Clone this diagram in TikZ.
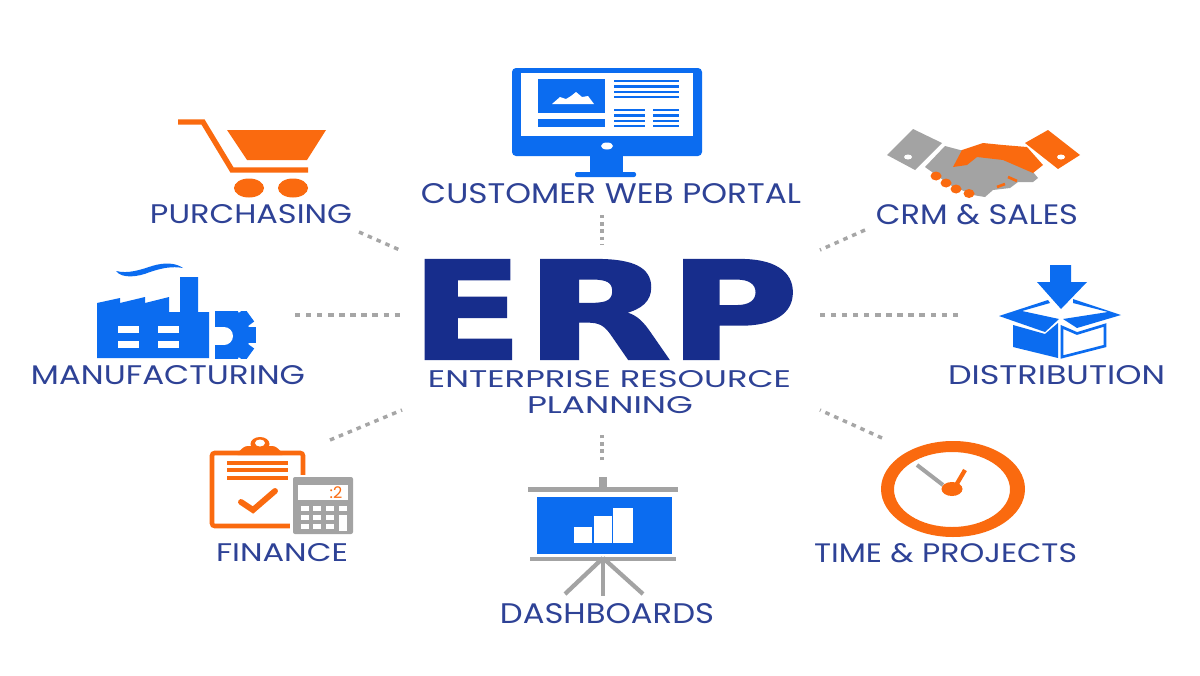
\documentclass[tikz,border=0pt]{standalone}
\usepackage{graphicx}
\usepackage{fontspec}
\setmainfont{Poppins}
\newfontfamily\erpfont{DejaVu Sans}[FakeBold=1.6]
\definecolor{iconblue}{HTML}{0B6CF0}
\definecolor{iconorange}{HTML}{FA6A0F}
\definecolor{icongray}{HTML}{A3A3A3}
\definecolor{labelblue}{HTML}{2E4296}
\definecolor{erpblue}{HTML}{172D8C}
\definecolor{dotgray}{HTML}{A6A6A6}
\tikzset{
  txt/.style={inner sep=0pt,outer sep=0pt,text=labelblue},
  bigtxt/.style={inner sep=0pt,outer sep=0pt,text=erpblue},
  linkh/.style={draw=dotgray,line width=2.6pt,dash pattern=on 4pt off 4.3pt},
  linkv/.style={draw=dotgray,line width=2.6pt,dash pattern=on 2.6pt off 2.8pt},
  linkd/.style={draw=dotgray,line width=2.6pt,dash pattern=on 3.4pt off 3.8pt},
  blue/.style={fill=iconblue},
  orange/.style={fill=iconorange},
  gray/.style={fill=icongray},
  white/.style={fill=white},
  bline/.style={draw=iconblue,line width=1.6pt},
  oline/.style={draw=iconorange},
  gline/.style={draw=icongray},
}
% name, x0, y0, x1, y1, text  (pixel box)
\newcommand{\lab}[6]{\node[txt] (#1) at ({(#2+#4)/2},{(#3+#5)/2})
  {\resizebox{\dimexpr 0.75pt*\numexpr#4-#2\relax\relax}{\dimexpr 0.75pt*\numexpr#5-#3\relax\relax}{#6}};}
\newcommand{\bigletter}[2]{\resizebox{\dimexpr 0.75pt*#1\relax}{\dimexpr 0.75pt*99\relax}{#2}}
\begin{document}
\begin{tikzpicture}[x=0.75pt,y=-0.75pt]
\useasboundingbox (0,0) rectangle (1200,675);
\fill[white] (0,0) rectangle (1200,675);

% ---------- centre text
\node[bigtxt] (erp) at (609.5,309.5)
  {\erpfont\bfseries\bigletter{89}{\kern-0.09em E\kern-0.05em}\kern20pt\bigletter{128}{\kern-0.09em R\kern-0.01em}\kern11.25pt\bigletter{109}{\kern-0.09em P\kern-0.03em}};
\lab{ent}{428}{371}{791}{388}{ENTERPRISE RESOURCE}
\lab{pln}{527}{397}{693}{414}{PLANNING}

% ---------- labels
\lab{purch}{150}{205}{352}{224}{PURCHASING}
\lab{portal}{421}{184}{801}{204}{CUSTOMER WEB PORTAL}
\lab{crm}{876}{205}{1078}{225}{CRM \& SALES}
\lab{manu}{31}{366}{305}{385}{MANUFACTURING}
\lab{dist}{948}{366}{1165}{385}{DISTRIBUTION}
\lab{fin}{216}{544}{348}{562}{FINANCE}
\lab{dash}{500}{604}{714}{624}{DASHBOARDS}
\lab{time}{814}{544}{1077}{563}{TIME \& PROJECTS}

% ---------- dotted connectors
\coordinate (t0) at (602,215); \coordinate (t1) at (602,244);
\coordinate (tl0) at (359,232); \coordinate (tl1) at (402,251);
\coordinate (tr0) at (865,230); \coordinate (tr1) at (820,250);
\coordinate (l0) at (295,315); \coordinate (l1) at (402,315);
\coordinate (r0) at (958,315); \coordinate (r1) at (818,315);
\coordinate (bl0) at (330,440); \coordinate (bl1) at (402,410);
\coordinate (b0) at (602,460); \coordinate (b1) at (602,432);
\coordinate (br0) at (882,438); \coordinate (br1) at (820,410);
\draw[linkv] (t0) -- (t1);
\draw[linkv] (b0) -- (b1);
\draw[linkh] (l0) -- (l1);
\draw[linkh] (r0) -- (r1);
\foreach \a/\b in {tl0/tl1,tr0/tr1,bl0/bl1,br0/br1}
  \draw[linkd] (\a) -- (\b);

% ---------- monitor
\fill[blue,rounded corners=3pt] (512,68) rectangle (702,156);
\fill[white] (521,73) rectangle (693,136);
\fill[blue] (538,79) rectangle (605,113);
\fill[blue] (538,119) rectangle (605,127);
\fill[white] (552,104) -- (560,97) -- (566,99) -- (571,96) -- (576,92) -- (582,97) -- (588,96) -- (594,104) -- cycle;
\foreach \y in {81,86.5,92,97} \draw[bline] (614,\y) -- (679,\y);
\foreach \y in {110,115.5,121,126} {\draw[bline] (614,\y) -- (645,\y); \draw[bline] (653,\y) -- (679,\y);}
\fill[white] (607,146) ellipse (6 and 3.5);
\fill[blue] (590,156) rectangle (623,173);
\fill[blue,rounded corners=1.5pt] (575,172) rectangle (636,177);

% ---------- cart
\draw[oline,line width=4pt] (178,122) -- (203,122) -- (232,170) -- (308,170);
\fill[orange] (227,130) -- (326,130) -- (307,160) -- (247,160) -- cycle;
\fill[orange] (249,188) ellipse (15 and 9.5);
\fill[orange] (293,188) ellipse (15 and 9.5);

% ---------- handshake
\fill[gray] (913,129) -- (942,143) -- (915,170) -- (887,155) -- cycle;
\fill[white] (908,157) ellipse (4 and 2.5);
\fill[orange] (1048,130) -- (1080,155) -- (1058,169) -- (1025,143) -- cycle;
\fill[white] (1061,157) ellipse (4 and 2.5);
\fill[gray] (925,167) -- (945,146) -- (960,150) -- (985,150) -- (1010,155) -- (1033,172) -- (1038,178) -- (1033,182) -- (1018,182) -- (1010,188) -- (993,190) -- (985,197) -- (973,195) -- (950,185) -- cycle;
\fill[orange] (953,167) -- (962,150) -- (983,143) -- (1003,145) -- (1027,147) -- (1043,165) -- (1033,173) -- (1003,160) -- (977,157) -- (967,165) -- cycle;
\fill[orange] (936,176) ellipse (5.5 and 4.5);
\fill[orange] (946,183) ellipse (5.5 and 4.5);
\fill[orange] (956,189) ellipse (5.5 and 4.5);
\fill[orange] (969,193.5) ellipse (5.5 and 4.5);
\draw[oline,line width=2pt] (997,187) -- (1005,184);
\draw[oline,line width=2pt] (1008,177) -- (1017,181);

% ---------- factory
\fill[blue] (97,358) -- (97,303) -- (120,298) -- (120,303) -- (145,297) -- (145,303) -- (169,297) -- (169,312) -- (180,312) -- (180,277) -- (198,277) -- (198,312) -- (209,312) -- (209,358) -- cycle;
\foreach \x in {118,158} \foreach \y in {326,341} \fill[white] (\x,\y) rectangle ++(20.5,7);
\fill[blue] (116,271) .. controls (128,274) and (140,270) .. (152,266) .. controls (165,262) and (176,263) .. (183,268) .. controls (172,266) and (162,268) .. (150,272) .. controls (138,277) and (122,279) .. (116,271) -- cycle;
\begin{scope}
  \clip (215,311) rectangle (258,358);
  \fill[blue] (222,335) circle (28);
  \foreach \a in {-72,-36,0,36,72}
    \fill[blue,rotate around={\a:(222,335)}] (240,327) rectangle (256,343);
  \fill[white] (224,336) circle (9);
  \fill[white] (214,327) rectangle (224,345);
\end{scope}

% ---------- box
\fill[blue] (1050,265) -- (1071,265) -- (1071,282) -- (1087,282) -- (1061,309) -- (1037,282) -- (1050,282) -- cycle;
\fill[blue] (999,316) -- (1048,300) -- (1050,303) -- (1022,311) -- (1059,319) -- (1045,332) -- cycle;
\fill[blue] (1073,299) -- (1121,315) -- (1077,328) -- (1063,319) -- (1108,312) -- (1073,303) -- cycle;
\fill[blue] (1013,325) -- (1045,334) -- (1058,323) -- (1058,358) -- (1013,347) -- cycle;
\draw[bline,line width=2pt] (1062,327) -- (1077,333.5) -- (1105,325) -- (1105,346) -- (1062,357) -- cycle;

% ---------- clipboard
\draw[oline,line width=3.4pt,rounded corners=2pt] (212,453) rectangle (303,526);
\fill[orange,rounded corners=2pt] (235,455) -- (245,446) -- (275,446) -- (285,455) -- cycle;
\fill[orange] (260,444) ellipse (9.5 and 7);
\fill[white] (260,443) ellipse (5 and 3.5);
\foreach \y in {463,470,478} \draw[oline,line width=2.4pt] (227,\y) -- (288,\y);
\draw[oline,line width=4.4pt,line cap=round] (241,502) -- (253,510) -- (275,491);
\fill[white] (290,475) rectangle (355,536);
\fill[gray,rounded corners=1.5pt] (293,477) rectangle (353,534);
\fill[white] (298,485) rectangle (348,500);
\node[inner sep=0pt,text=iconorange,font=\fontsize{12}{12}\selectfont] (calc) at (336,492.5) {:2};
\foreach \x in {305,317,330} \foreach \y in {508,517,526} \fill[white] (\x-4,\y-2.5) rectangle (\x+4,\y+2.5);
\fill[white] (339,505.5) rectangle (347,510.5);
\fill[white] (339,514.5) rectangle (347,531);

% ---------- presentation board
\fill[gray] (599,477) rectangle (607,488);
\fill[gray] (528,487) rectangle (678,492);
\fill[iconblue] (537,497) rectangle (672,554);
\fill[white] (574,527) rectangle (592,543);
\fill[white] (594,516) rectangle (612,543);
\fill[white] (613,508) rectangle (633,543);
\fill[gray] (530,557) rectangle (676,561);
\draw[gline,line width=3.2pt] (603,558) -- (565,594);
\draw[gline,line width=3.2pt] (603,558) -- (603,596);
\draw[gline,line width=3.2pt] (603,558) -- (643,594);

% ---------- clock
\fill[iconorange,even odd rule] (953,489) ellipse (72 and 48) (952,489.5) ellipse (58 and 37.5);
\draw[gline,line width=3pt] (917,465) -- (943,485);
\draw[oline,line width=3.2pt] (965,470) -- (955,487);
\fill[orange] (952,489) ellipse (10.5 and 7);
\end{tikzpicture}
\end{document}
